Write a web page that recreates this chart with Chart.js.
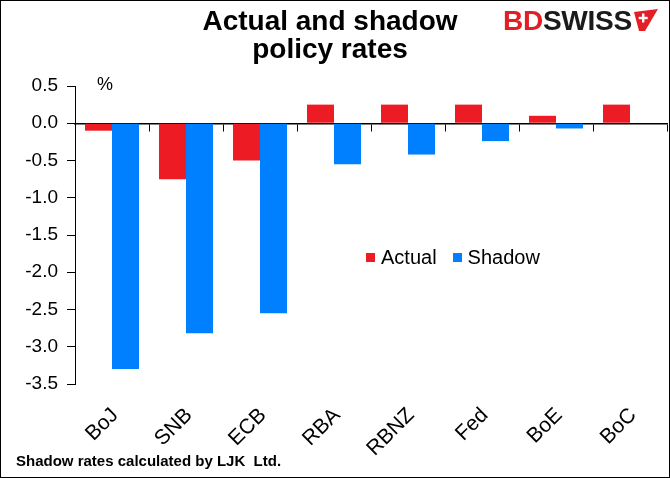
<!DOCTYPE html>
<html>
<head>
<meta charset="utf-8">
<script src="https://cdn.jsdelivr.net/npm/chart.js@4"></script>
<style>
  html, body { margin: 0; padding: 0; background: #fff; }
  #wrap { position: relative; width: 670px; height: 478px; font-family: "Liberation Sans", Arial, sans-serif; }
  #frame { position: absolute; left: 0; top: 0; width: 670px; height: 478px; box-sizing: border-box; border: 1px solid #000; pointer-events: none; }
  canvas { position: absolute; left: 0; top: 0; }
  #title { position: absolute; left: 180px; top: 7px; width: 300px; text-align: center; font-weight: bold; font-size: 28px; color: #000; line-height: 27.5px; }
  #logo { position: absolute; left: 503px; top: 6px; font-weight: bold; font-size: 27px; letter-spacing: -0.3px; white-space: nowrap; transform: scaleX(1.04); transform-origin: left top; }
  #logo .bd { color: #E31E24; }
  #logo .sw { color: #1b1b1b; }
  #flag { position: absolute; left: 634px; top: 9px; }
  #pct { position: absolute; left: 97px; top: 74px; font-size: 18px; color: #000; }
  #legend { position: absolute; left: 366px; top: 246px; font-size: 20px; color: #000; white-space: nowrap; }
  #legend span.item { display: inline-block; margin-right: 16px; }
  #legend i { display: inline-block; width: 9px; height: 9px; margin-right: 6px; vertical-align: 2px; }
  #footer { position: absolute; left: 16px; top: 452px; font-weight: bold; font-size: 15px; color: #000; white-space: pre; }
</style>
</head>
<body>
<div id="wrap">
  <canvas id="c" width="670" height="478"></canvas>
  <div id="title">Actual and shadow<br>policy rates</div>
  <div id="logo"><span class="bd">BD</span><span class="sw">SWISS</span></div>
  <svg id="flag" width="24" height="24" viewBox="0 0 24 24"><polygon points="0,3 24,0 11,22 5,22" fill="#E31E24"/><rect x="8" y="4.5" width="2.4" height="9" fill="#fff"/><rect x="4.7" y="7.8" width="9" height="2.4" fill="#fff"/></svg>
  <div id="pct">%</div>
  <div id="legend"></div>
  <div id="footer">Shadow rates calculated by LJK  Ltd.</div>
  <div id="frame"></div>
</div>
<script>
const categories = ["BoJ", "SNB", "ECB", "RBA", "RBNZ", "Fed", "BoE", "BoC"];
const actualRates = [-0.1, -0.75, -0.5, 0.25, 0.25, 0.25, 0.1, 0.25];
const shadowRates = [-3.3, -2.82, -2.55, -0.55, -0.42, -0.24, -0.07, null];
const seriesNames = ["Actual", "Shadow"];
const seriesColors = ["#ED1C24", "#0080FF"];
const yMin = -3.5, yMax = 0.5, yStep = 0.5;

const FONT = "'Liberation Sans', Arial, sans-serif";

const chart = new Chart(document.getElementById('c'), {
  type: 'bar',
  data: {
    labels: categories,
    datasets: [
      { label: seriesNames[0], data: actualRates, backgroundColor: seriesColors[0], borderWidth: 0 },
      { label: seriesNames[1], data: shadowRates, backgroundColor: seriesColors[1], borderWidth: 0 }
    ]
  },
  options: {
    responsive: false,
    animation: false,
    devicePixelRatio: 1,
    layout: { padding: { left: 0, right: 3, top: 86, bottom: 0 } },
    datasets: { bar: { categoryPercentage: 0.73, barPercentage: 1.0 } },
    plugins: { legend: { display: false }, title: { display: false }, tooltip: { enabled: false } },
    scales: {
      x: {
        type: 'category',
        position: 'bottom',
        grid: { display: false },
        border: { display: false },
        ticks: {
          autoSkip: false, minRotation: 45, maxRotation: 45, padding: 11, labelOffset: 3,
          color: '#000', font: { family: FONT, size: 21 }
        },
        afterFit: (s) => { s.height = 94; }
      },
      x2: {
        type: 'category',
        position: { y: 0 },
        offset: true,
        grid: { display: true, offset: true, drawOnChartArea: false, drawTicks: true, tickLength: 7, color: '#000', lineWidth: 1 },
        border: { display: true, color: '#000', width: 1.5 },
        ticks: { display: false }
      },
      y: {
        min: yMin, max: yMax,
        grid: { drawOnChartArea: false, drawTicks: true, tickLength: 8, color: '#000' },
        border: { display: true, color: '#000', width: 1 },
        ticks: {
          stepSize: yStep, padding: 9, color: '#000', font: { family: FONT, size: 19 },
          callback: (v) => Number(v).toFixed(1)
        },
        afterFit: (s) => { s.width = 75; }
      }
    }
  }
});

const leg = document.getElementById('legend');
chart.data.datasets.forEach((ds) => {
  const item = document.createElement('span');
  item.className = 'item';
  const sw = document.createElement('i');
  sw.style.background = ds.backgroundColor;
  item.appendChild(sw);
  item.appendChild(document.createTextNode(ds.label));
  leg.appendChild(item);
});
</script>
</body>
</html>
